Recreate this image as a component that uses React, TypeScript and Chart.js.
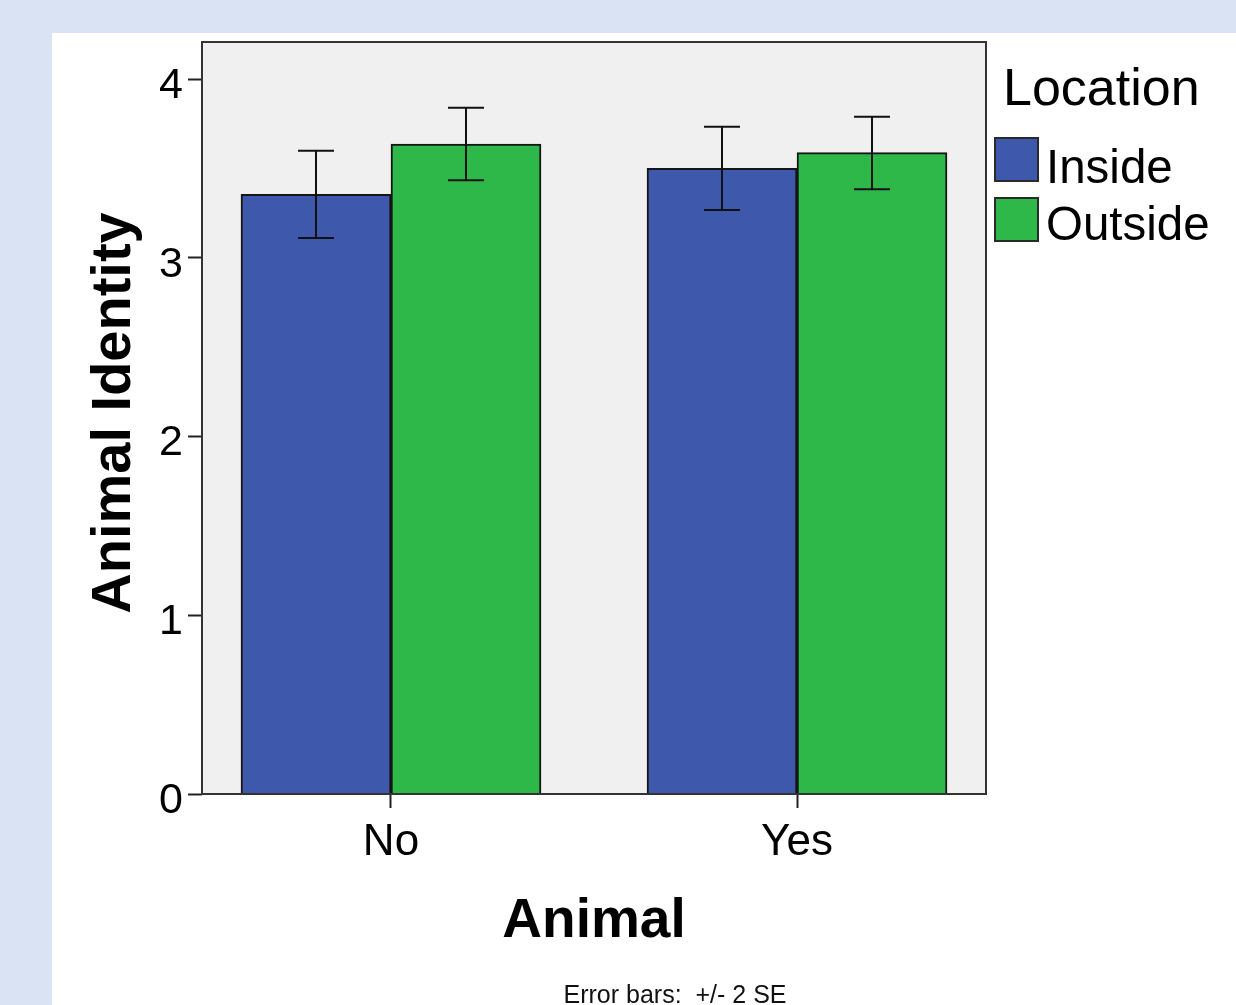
import React, { useEffect, useRef } from "react";
import { Chart, registerables } from "chart.js";

Chart.register(...registerables);

const categories = ["No", "Yes"];
const seriesNames = ["Inside", "Outside"];
const insideValues = [3.355, 3.5];
const outsideValues = [3.636, 3.588];
const insideErrLow = [3.11, 3.267];
const insideErrHigh = [3.599, 3.733];
const outsideErrLow = [3.433, 3.383];
const outsideErrHigh = [3.839, 3.789];
const yTicks = [0, 1, 2, 3, 4];
const colors = ["#3e58ab", "#2eb84a"];

const FONT = "Arial, 'Liberation Sans', sans-serif";

export default function App() {
  const ref = useRef<HTMLCanvasElement | null>(null);

  useEffect(() => {
    const canvas = ref.current;
    if (!canvas) return;
    const errLow = [insideErrLow, outsideErrLow];
    const errHigh = [insideErrHigh, outsideErrHigh];

    const decor = {
      id: "decor",
      beforeDraw(chart: any) {
        const { ctx, chartArea: a } = chart;
        ctx.save();
        ctx.fillStyle = "#dae3f3";
        ctx.fillRect(0, 0, chart.width, chart.height);
        ctx.fillStyle = "#ffffff";
        ctx.fillRect(52, 33, chart.width - 52, chart.height - 33);
        ctx.fillStyle = "#f0f0f0";
        ctx.fillRect(a.left, a.top, a.right - a.left, a.bottom - a.top);
        ctx.restore();
      },
      afterDatasetsDraw(chart: any) {
        const { ctx } = chart;
        const ys = chart.scales.y;
        ctx.save();
        ctx.strokeStyle = "#111";
        ctx.lineWidth = 2;
        chart.data.datasets.forEach((ds: any, di: number) => {
          const meta = chart.getDatasetMeta(di);
          meta.data.forEach((el: any, i: number) => {
            const x = el.x;
            const y1 = ys.getPixelForValue(errLow[di][i]);
            const y2 = ys.getPixelForValue(errHigh[di][i]);
            const cw = 18;
            ctx.beginPath();
            ctx.moveTo(x, y1);
            ctx.lineTo(x, y2);
            ctx.moveTo(x - cw, y1);
            ctx.lineTo(x + cw, y1);
            ctx.moveTo(x - cw, y2);
            ctx.lineTo(x + cw, y2);
            ctx.stroke();
          });
        });
        ctx.restore();
      },
      afterDraw(chart: any) {
        const { ctx, chartArea: a } = chart;
        ctx.save();
        ctx.strokeStyle = "#333";
        ctx.lineWidth = 2;
        ctx.strokeRect(a.left, a.top, a.right - a.left, a.bottom - a.top);

        ctx.fillStyle = "#000";
        // y title
        ctx.save();
        ctx.translate(130, 413);
        ctx.rotate(-Math.PI / 2);
        ctx.font = `bold 56px ${FONT}`;
        ctx.textAlign = "center";
        ctx.textBaseline = "alphabetic";
        ctx.fillText("Animal Identity", 0, 0);
        ctx.restore();

        // x title
        ctx.font = `bold 55px ${FONT}`;
        ctx.textAlign = "center";
        ctx.textBaseline = "alphabetic";
        ctx.fillText("Animal", 594, 937);

        // legend
        ctx.textAlign = "left";
        ctx.font = `52px ${FONT}`;
        ctx.fillText("Location", 1003, 105);
        const boxes = [
          { y: 138, baseline: 183 },
          { y: 198, baseline: 240 },
        ];
        ctx.font = `47.5px ${FONT}`;
        boxes.forEach((b, i) => {
          ctx.fillStyle = colors[i];
          ctx.fillRect(995, b.y, 43, 43);
          ctx.strokeStyle = "#2a2a2a";
          ctx.lineWidth = 2;
          ctx.strokeRect(995, b.y, 43, 43);
          ctx.fillStyle = "#000";
          ctx.fillText(seriesNames[i], 1046, b.baseline);
        });

        // footnote
        ctx.font = `25px ${FONT}`;
        ctx.textAlign = "center";
        ctx.fillStyle = "#111";
        ctx.fillText("Error bars:  +/- 2 SE", 675, 1003);
        ctx.restore();
      },
    };

    const chart = new Chart(canvas, {
      type: "bar",
      data: {
        datasets: [
          {
            label: seriesNames[0],
            data: insideValues.map((v, i) => ({ x: i, y: v })),
            backgroundColor: colors[0],
            borderColor: "#151515",
            borderWidth: 2,
          },
          {
            label: seriesNames[1],
            data: outsideValues.map((v, i) => ({ x: i, y: v })),
            backgroundColor: colors[1],
            borderColor: "#151515",
            borderWidth: 2,
          },
        ],
      },
      options: {
        animation: false,
        responsive: false,
        devicePixelRatio: 1,
        layout: { padding: { left: 0, top: 42, right: 250, bottom: 0 } },
        plugins: { legend: { display: false }, tooltip: { enabled: false } },
        datasets: { bar: { barThickness: 150, grouped: true } },
        scales: {
          x: {
            type: "linear",
            min: -0.4655,
            max: 1.4655,
            offset: false,
            afterBuildTicks: (s: any) => {
              s.ticks = categories.map((_, i) => ({ value: i }));
            },
            afterFit: (s: any) => {
              s.height = 211;
            },
            grid: {
              offset: false,
              drawOnChartArea: false,
              drawTicks: true,
              tickLength: 14,
              tickWidth: 2,
              tickColor: "#222",
            },
            border: { display: false },
            ticks: {
              autoSkip: false,
              maxRotation: 0,
              padding: 8,
              color: "#000",
              font: { family: FONT, size: 44 },
              callback: (v: any) => categories[Math.round(Number(v))] ?? "",
            },
          },
          y: {
            min: 0,
            max: 4.207,
            afterBuildTicks: (s: any) => {
              s.ticks = yTicks.map((v) => ({ value: v }));
            },
            afterFit: (s: any) => {
              s.width = 202;
            },
            grid: {
              drawOnChartArea: false,
              drawTicks: true,
              tickLength: 14,
              tickWidth: 2,
              tickColor: "#222",
            },
            border: { display: false },
            ticks: {
              padding: 5,
              labelOffset: 7,
              color: "#000",
              font: { family: FONT, size: 43 },
            },
          },
        },
      },
      plugins: [decor],
    } as any);

    return () => chart.destroy();
  }, []);

  return (
    <div style={{ position: "fixed", left: 0, top: 0, width: 1236, height: 1005 }}>
      <canvas ref={ref} width={1236} height={1005} style={{ width: 1236, height: 1005, display: "block" }} />
    </div>
  );
}
